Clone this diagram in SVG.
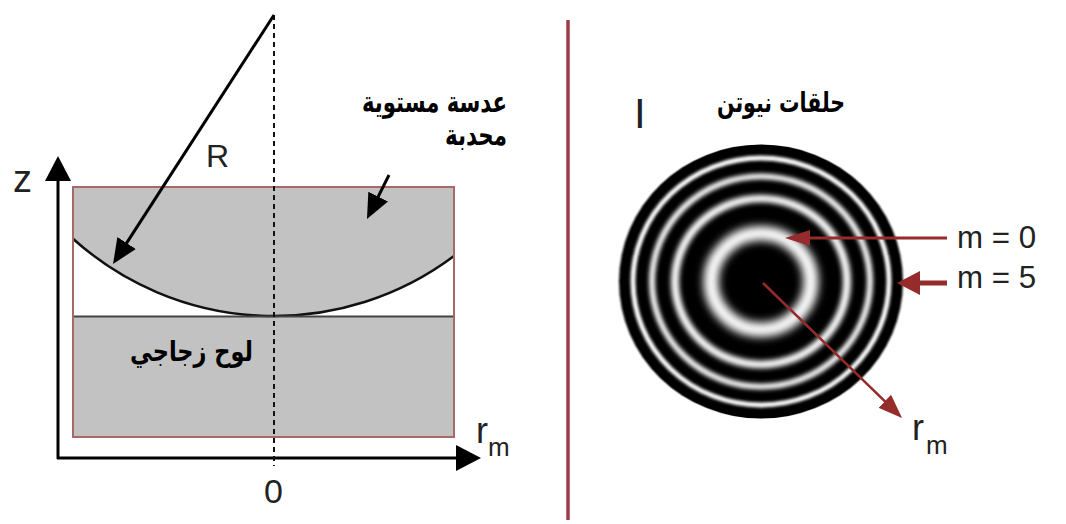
<svg xmlns="http://www.w3.org/2000/svg" width="1066" height="524" viewBox="0 0 1066 524">
  <style>
    .lbl { font-family: "Liberation Sans", Arial, sans-serif; fill: #222; }
    .ar { font-family: "DejaVu Sans", "Noto Sans", sans-serif; font-weight: bold; fill: #000; }
    .axis { stroke: #000; stroke-width: 3; fill: none; }
    .blk { stroke: #000; stroke-width: 3; fill: none; }
    .red { stroke: #952b2b; fill: none; }
  </style>
  <defs>
    <marker id="head-axis" viewBox="0 0 25 26" refX="12" refY="13" markerWidth="25" markerHeight="26" markerUnits="userSpaceOnUse" orient="auto">
      <path d="M0,0 L25,13 L0,26 z" fill="#000"/>
    </marker>
    <marker id="head-black" viewBox="0 0 25 22" refX="12" refY="11" markerWidth="25" markerHeight="22" markerUnits="userSpaceOnUse" orient="auto">
      <path d="M0,0 L25,11 L0,22 z" fill="#000"/>
    </marker>
    <marker id="head-red-thin" viewBox="0 0 25 16" refX="12" refY="8" markerWidth="25" markerHeight="16" markerUnits="userSpaceOnUse" orient="auto">
      <path d="M0,0 L25,8 L0,16 z" fill="#952b2b"/>
    </marker>
    <marker id="head-red-wide" viewBox="0 0 23 24" refX="11" refY="12" markerWidth="23" markerHeight="24" markerUnits="userSpaceOnUse" orient="auto">
      <path d="M0,0 L23,12 L0,24 z" fill="#952b2b"/>
    </marker>
    <marker id="head-red-mid" viewBox="0 0 24 18" refX="11" refY="9" markerWidth="24" markerHeight="18" markerUnits="userSpaceOnUse" orient="auto">
      <path d="M0,0 L24,9 L0,18 z" fill="#952b2b"/>
    </marker>
    <filter id="soft4" x="-40%" y="-40%" width="180%" height="180%"><feGaussianBlur stdDeviation="4.5"/></filter>
    <filter id="soft25" x="-30%" y="-30%" width="160%" height="160%"><feGaussianBlur stdDeviation="2.5"/></filter>
    <filter id="soft2" x="-30%" y="-30%" width="160%" height="160%"><feGaussianBlur stdDeviation="2"/></filter>
    <filter id="soft15" x="-30%" y="-30%" width="160%" height="160%"><feGaussianBlur stdDeviation="1.6"/></filter>
    <filter id="soft08" x="-10%" y="-10%" width="120%" height="120%"><feGaussianBlur stdDeviation="0.8"/></filter>
  </defs>

  <rect width="1066" height="524" fill="#fff"/>

  <!-- Left panel: plano-convex lens resting on a glass plate -->
  <g id="lens-and-plate">
    <rect x="73" y="187" width="381" height="250" fill="#c2c2c2"/>
    <!-- air gap between the curved lens face and the plate -->
    <path d="M73,238.7 A300,300 0 0 0 454,256 L454,316 L73,316 Z" fill="#fff"/>
    <path d="M73,238.7 A300,300 0 0 0 454,256" stroke="#111" stroke-width="2.5" fill="none"/>
    <line x1="73" y1="316.5" x2="454" y2="316.5" stroke="#444" stroke-width="2"/>
    <rect x="73" y="187" width="381" height="250" fill="none" stroke="#a86868" stroke-width="2"/>
  </g>

  <g id="axes">
    <line class="axis" x1="58" y1="459" x2="58" y2="169" marker-end="url(#head-axis)"/>
    <line class="axis" x1="57" y1="458" x2="468" y2="458" marker-end="url(#head-axis)"/>
    <line x1="274" y1="15" x2="274" y2="466" stroke="#111" stroke-width="2" stroke-dasharray="5,4"/>
  </g>

  <g id="left-labels">
    <text class="lbl" x="13" y="192" font-size="38">z</text>
    <text class="lbl" x="206" y="167" font-size="32">R</text>
    <text class="lbl" x="264" y="503" font-size="34">0</text>
    <text class="lbl" x="476" y="443" font-size="36">r</text>
    <text class="lbl" x="488" y="456" font-size="26">m</text>
    <text class="ar" x="434.5" y="112" font-size="29" text-anchor="middle" textLength="145" lengthAdjust="spacingAndGlyphs">عدسة مستوية</text>
    <text class="ar" x="476" y="145" font-size="29" text-anchor="middle" textLength="62" lengthAdjust="spacingAndGlyphs">محدبة</text>
    <text class="ar" x="191.5" y="361" font-size="28" text-anchor="middle" textLength="123" lengthAdjust="spacingAndGlyphs">لوح زجاجي</text>
  </g>

  <!-- divider -->
  <line id="divider" x1="568" y1="20" x2="568" y2="520" stroke="#9e3c4a" stroke-width="3.5"/>

  <!-- Right panel: interference pattern -->
  <g id="newton-rings" transform="translate(761,281.5) scale(1,0.965)">
    <circle r="142" fill="#000" filter="url(#soft08)"/>
    <circle r="50" fill="none" stroke="#fff" stroke-width="15" filter="url(#soft4)"/>
    <circle r="86" fill="none" stroke="#fff" stroke-width="8" filter="url(#soft25)"/>
    <circle r="109" fill="none" stroke="#fff" stroke-width="6" filter="url(#soft2)"/>
    <circle r="128" fill="none" stroke="#fff" stroke-width="5" filter="url(#soft15)"/>
  </g>

  <g id="right-labels">
    <text class="lbl" x="634" y="128" font-size="42" fill="#333">I</text>
    <text class="ar" x="781" y="112" font-size="28" text-anchor="middle" textLength="128" lengthAdjust="spacingAndGlyphs">حلقات نيوتن</text>
    <text class="lbl" x="957" y="248" font-size="32" textLength="79" lengthAdjust="spacingAndGlyphs">m = 0</text>
    <text class="lbl" x="957" y="288" font-size="32" textLength="79" lengthAdjust="spacingAndGlyphs">m = 5</text>
    <text class="lbl" x="912" y="440" font-size="36">r</text>
    <text class="lbl" x="926" y="454" font-size="26">m</text>
  </g>

  <g id="connectors">
    <line class="blk" x1="274" y1="15" x2="120.1" y2="253.1" marker-end="url(#head-black)"/>
    <line class="blk" x1="389" y1="175" x2="372.8" y2="207.4" marker-end="url(#head-black)"/>
    <line class="red" stroke-width="3" x1="947" y1="238" x2="798" y2="238" marker-end="url(#head-red-thin)"/>
    <line class="red" stroke-width="5" x1="947" y1="283" x2="909" y2="283" marker-end="url(#head-red-wide)"/>
    <line class="red" stroke-width="2.5" x1="763" y1="283" x2="892.7" y2="408.9" marker-end="url(#head-red-mid)"/>
  </g>
</svg>
